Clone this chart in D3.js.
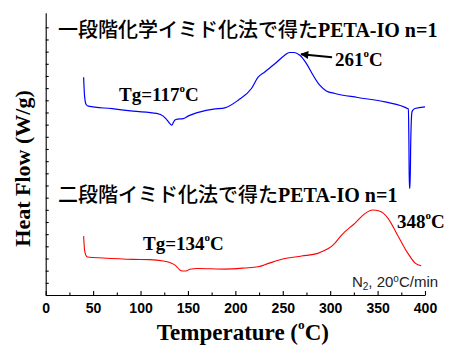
<!DOCTYPE html>
<html>
<head>
<meta charset="utf-8">
<script src="https://cdn.jsdelivr.net/npm/d3@7"></script>
<style>
  body { margin: 0; background: #fff; }
  svg { display: block; }
</style>
</head>
<body>
<svg id="chart"></svg>
<script>

// One-step chemical imidization (blue)
const blueTemp = [40, 41, 42.5, 45, 70, 92, 117, 124, 128, 133, 136, 139, 145, 150, 163, 177, 189,
  203, 217, 224, 231, 242, 252, 257, 262, 268, 275, 282, 289, 296, 305, 329, 358,
  382.5, 383, 383.5, 384.2, 385, 385.7, 386.5, 389.5, 400];
const blueFlow = [17.90, 16.34, 15.68, 15.52, 15.31, 15.11, 14.92, 14.70, 14.37, 13.96, 14.37, 14.45, 14.49, 14.70, 15.05, 15.27, 15.38,
  16.01, 16.97, 17.90, 18.33, 19.02, 19.70, 19.93, 19.93, 19.70, 19.02, 18.06, 17.24, 16.77, 16.56, 16.23, 15.87,
  15.29, 12.73, 8.78, 8.78, 12.73, 14.53, 15.11, 15.33, 15.46];

// Two-step imidization (red)
const redTemp = [40, 41, 42.5, 44, 60, 92, 110, 124, 132, 137, 141, 144, 148, 152, 160, 189,
  210, 224, 235, 250, 270, 287, 295, 301, 305, 312, 326, 337, 345, 351, 356, 361, 372, 382, 390, 396];
const redFlow = [4.84, 3.69, 3.24, 3.12, 3.04, 2.93, 2.91, 2.79, 2.63, 2.42, 2.09, 1.97, 1.97, 2.11, 2.18, 2.13,
  2.22, 2.32, 2.60, 2.96, 3.20, 3.42, 3.69, 3.97, 4.27, 4.93, 5.89, 6.71, 6.98, 6.92, 6.73, 6.30, 4.79, 3.42, 2.60, 2.41];

const xTicks = [0, 50, 100, 150, 200, 250, 300, 350, 400];
const xMinorTicks = [25, 75, 125, 175, 225, 275, 325, 375];
const yTicks = d3.range(0, 23);

const title1 = '一段階化学イミド化法で得た';
const title2 = '二段階イミド化法で得た';
const sampleName = 'PETA-IO n=1';

const width = 449, height = 345;
const serif = "'Liberation Serif', 'Times New Roman', serif";
const sans = "'Liberation Sans', Arial, sans-serif";
const cjk = "'Noto Sans CJK JP', sans-serif";

const svg = d3.select('#chart')
  .attr('width', width)
  .attr('height', height);

const x = d3.scaleLinear().domain([0, 400]).range([45.7, 425]);
const y = d3.scaleLinear().domain([0, 23.2]).range([295, 12.7]);

// axes
const xAxis = svg.append('g')
  .attr('transform', `translate(0, ${y(0)})`)
  .call(d3.axisBottom(x).tickValues(xTicks).tickSize(-4).tickSizeOuter(0).tickPadding(8));
xAxis.selectAll('text')
  .style('font-family', sans).style('font-weight', 'bold').style('font-size', '14px').attr('fill', '#000');

svg.append('g')
  .attr('transform', `translate(0, ${y(0)})`)
  .call(d3.axisBottom(x).tickValues(xMinorTicks).tickSize(-2.5).tickFormat(''))
  .call(g => g.select('.domain').remove());

svg.append('g')
  .attr('transform', `translate(${x(0)}, 0)`)
  .call(d3.axisLeft(y).tickValues(yTicks).tickSize(-3).tickSizeOuter(0).tickFormat(''));

svg.selectAll('.domain, .tick line').attr('stroke', '#000').attr('stroke-width', 1.1);

// curves
const line = d3.line()
  .x(d => x(d[0]))
  .y(d => y(d[1]))
  .curve(d3.curveMonotoneX);

svg.append('path')
  .datum(d3.zip(blueTemp, blueFlow))
  .attr('fill', 'none')
  .attr('stroke', '#0000ff')
  .attr('stroke-width', 1.2)
  .attr('d', line);

svg.append('path')
  .datum(d3.zip(redTemp, redFlow))
  .attr('fill', 'none')
  .attr('stroke', '#ff0000')
  .attr('stroke-width', 1.1)
  .attr('d', line);

// text with a superscript "o"
function degText(parent, xPos, yPos, before, after, size) {
  const t = parent.append('text')
    .attr('x', xPos).attr('y', yPos)
    .style('font-family', serif)
    .style('font-weight', 'bold')
    .style('font-size', size + 'px');
  t.append('tspan').text(before);
  if (after !== null) {
    t.append('tspan').attr('dy', -0.48 * size).style('font-size', (0.58 * size) + 'px').text('o');
    t.append('tspan').attr('dy', 0.48 * size).text(after);
  }
  return t;
}

function sampleTitle(xPos, yPos, jp) {
  const t = svg.append('text').attr('x', xPos).attr('y', yPos).style('font-size', '20px');
  t.append('tspan').style('font-family', cjk).style('font-weight', 500).text(jp);
  t.append('tspan').style('font-family', serif).style('font-weight', 'bold').text(sampleName);
}

sampleTitle(x(13), y(21.18), title1);
sampleTitle(x(13), y(7.64), title2);

degText(svg, x(77.3), y(15.93), 'Tg=117', 'C', 19);
degText(svg, x(102.6), y(3.69), 'Tg=134', 'C', 19);
degText(svg, x(305), y(18.8), '261', 'C', 19);
degText(svg, x(370.4), y(5.5), '348', 'C', 19);

// arrow to the 261 peak
svg.append('defs').append('marker')
  .attr('id', 'head')
  .attr('viewBox', '0 0 10 10')
  .attr('refX', 9).attr('refY', 5)
  .attr('markerWidth', 11).attr('markerHeight', 8)
  .attr('markerUnits', 'userSpaceOnUse')
  .attr('orient', 'auto')
  .append('path').attr('d', 'M0,0L10,5L0,10Z').attr('fill', '#000');

svg.append('line')
  .attr('x1', x(302)).attr('y1', y(19.54))
  .attr('x2', x(269.3)).attr('y2', y(19.79))
  .attr('stroke', '#000').attr('stroke-width', 2)
  .attr('marker-end', 'url(#head)');

// conditions note
const note = svg.append('text')
  .attr('x', x(413.8)).attr('y', y(0.68))
  .attr('text-anchor', 'end')
  .style('font-family', sans).style('font-size', '15px').attr('fill', '#222');
note.append('tspan').text('N');
note.append('tspan').attr('dy', 3).style('font-size', '10px').text('2');
note.append('tspan').attr('dy', -3).text(', 20');
note.append('tspan').attr('dy', -5).style('font-size', '10px').text('o');
note.append('tspan').attr('dy', 5).text('C/min');

// axis titles
degText(svg, x(208), 340, 'Temperature (', 'C)', 23).attr('text-anchor', 'middle');

degText(svg.append('g').attr('transform', `translate(30, ${y(10.4)}) rotate(-90)`),
  0, 0, 'Heat Flow (W/g)', null, 22).attr('text-anchor', 'middle');

</script>
</body>
</html>
